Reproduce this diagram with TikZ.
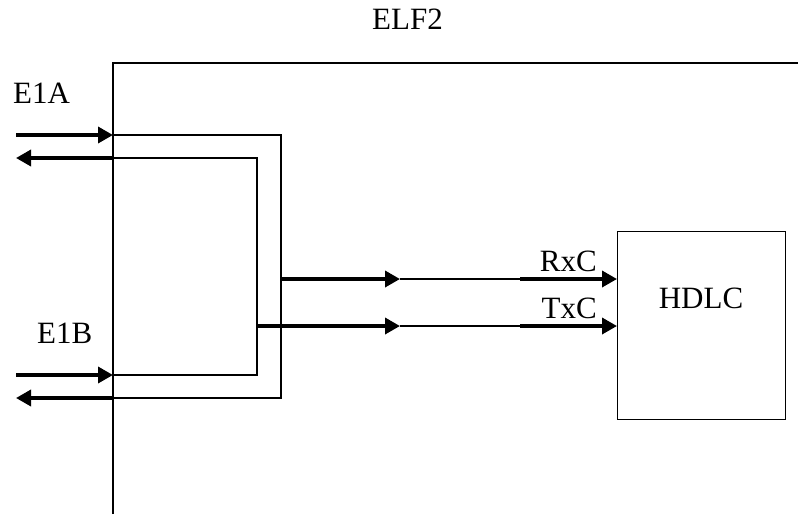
\documentclass[tikz,border=0pt]{standalone}
\usepackage{fontspec}
\setmainfont{Liberation Serif}
\usetikzlibrary{arrows.meta, positioning}

\begin{document}
\begin{tikzpicture}[
    x=1pt, y=-1pt,
    every node/.style={font=\fontsize{31}{36}\selectfont, inner sep=0pt},
    wire/.style={line width=1.3pt},
    arr/.style={line width=3.5pt, -{Triangle[length=15pt,width=16pt]}},
  ]
  \useasboundingbox (0,0) rectangle (798,515);

  % chip boundary
  \coordinate (top) at (113,63);
  \coordinate (bot) at (113,514);
  \coordinate (right) at (798,63);
  \draw[wire] (bot) -- (top) -- (right);
  \node[anchor=base west] (elf) at (372,29) {ELF2};

  % line labels
  \node[anchor=base west] (e1a) at (13,103) {E1A};
  \node[anchor=base west] (e1b) at (37,343) {E1B};

  % HDLC block
  \node[draw, wire, anchor=north west, minimum width=168pt, minimum height=188pt] (hdlc) at (617,231) {};
  \node (hdlct) at (701,298) {HDLC};

  % E1A loop
  \coordinate (ain) at (16,135);
  \coordinate (ap) at (113,135);
  \coordinate (aout) at (16,158);
  \coordinate (aq) at (113,158);
  % E1B loop
  \coordinate (bin) at (16,375);
  \coordinate (bp) at (113,375);
  \coordinate (bout) at (16,398);
  \coordinate (bq) at (113,398);

  \draw[arr] (ain) -- (ap);
  \draw[arr] (aq) -- (aout);
  \draw[arr] (bin) -- (bp);
  \draw[arr] (bq) -- (bout);

  \draw[wire] (ap) -- (281,135) -- (281,398) -- (bq);
  \draw[wire] (aq) -- (257,158) -- (257,375) -- (bp);

  % clocks to HDLC
  \coordinate (rx0) at (281,279);
  \coordinate (rx1) at (400,279);
  \coordinate (rx2) at (520,279);
  \coordinate (tx0) at (257,326);
  \coordinate (tx1) at (400,326);
  \coordinate (tx2) at (520,326);

  \draw[arr] (rx0) -- (rx1);
  \draw[wire] (rx1) -- (rx2);
  \draw[arr] (rx2) -- (hdlc.west |- rx2);
  \draw[arr] (tx0) -- (tx1);
  \draw[wire] (tx1) -- (tx2);
  \draw[arr] (tx2) -- (hdlc.west |- tx2);

  \node[anchor=base east] (rxc) at (597,271) {RxC};
  \node[anchor=base east] (txc) at (597,318) {TxC};
\end{tikzpicture}
\end{document}
